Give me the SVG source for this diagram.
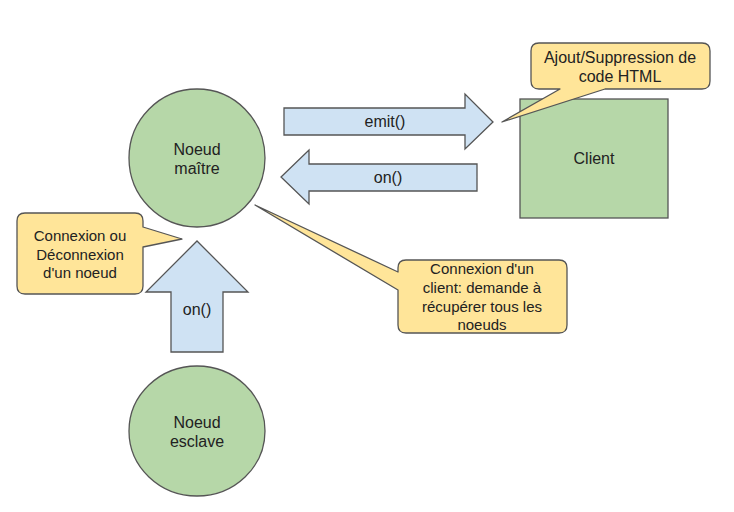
<svg xmlns="http://www.w3.org/2000/svg" width="734" height="512" viewBox="0 0 734 512">
<style>
.node{fill:#b6d7a8;stroke:#555;stroke-width:1.3}
.arrow{fill:#cfe2f3;stroke:#555;stroke-width:1.3;stroke-linejoin:miter}
.call{fill:#ffe599;stroke:#555;stroke-width:1.3;stroke-linejoin:round}
text{font-family:"Liberation Sans",Arial,sans-serif;font-size:16px;fill:#222;text-anchor:middle}
.sm{font-size:15px}
</style>
<rect width="734" height="512" fill="#fff"/>
<g id="connectors">
<g id="emit-arrow">
<path class="arrow" d="M284,108 H465 V94 L493,122 L465,149 V135 H284 Z"/>
<text x="385" y="127">emit()</text>
</g>
<g id="on-arrow-left">
<path class="arrow" d="M477,164 H309 V150 L281,177 L309,204 V191 H477 Z"/>
<text x="388" y="183">on()</text>
</g>
<g id="on-arrow-up">
<path class="arrow" d="M171,352 V292 H146 L197,241 L248,292 H223 V352 Z"/>
<text x="197" y="315">on()</text>
</g>
</g>
<g id="master">
<ellipse class="node" cx="197" cy="158" rx="68" ry="69"/>
<text x="197" y="155">Noeud</text>
<text x="197" y="174">maître</text>
</g>
<g id="client">
<rect class="node" x="520" y="99" width="148" height="119"/>
<text x="594" y="164">Client</text>
</g>
<g id="slave">
<ellipse class="node" cx="197" cy="431" rx="68" ry="65"/>
<text x="197" y="428">Noeud</text>
<text x="197" y="447">esclave</text>
</g>
<g id="callout-html">
<path class="call" d="M539,43 H702 Q710,43 710,51 V81 Q710,89 702,89 H605 L502,122 L560,89 H539 Q531,89 531,81 V51 Q531,43 539,43 Z"/>
<text x="620" y="63">Ajout/Suppression de</text>
<text x="620" y="82">code HTML</text>
</g>
<g id="callout-noeud">
<path class="call" d="M25,213 H135 Q143,213 143,221 V227 L182,239 L143,247 V286 Q143,294 135,294 H25 Q17,294 17,286 V221 Q17,213 25,213 Z"/>
<text class="sm" x="80" y="241">Connexion ou</text>
<text class="sm" x="80" y="260">Déconnexion</text>
<text class="sm" x="80" y="278">d'un noeud</text>
</g>
<g id="callout-client">
<path class="call" d="M406,260 H559 Q567,260 567,268 V325 Q567,333 559,333 H406 Q398,333 398,325 V290 L255,205 L398,272 V268 Q398,260 406,260 Z"/>
<text class="sm" x="482" y="274">Connexion d'un</text>
<text class="sm" x="482" y="293">client: demande à</text>
<text class="sm" x="482" y="312">récupérer tous les</text>
<text class="sm" x="482" y="330">noeuds</text>
</g>
</svg>
